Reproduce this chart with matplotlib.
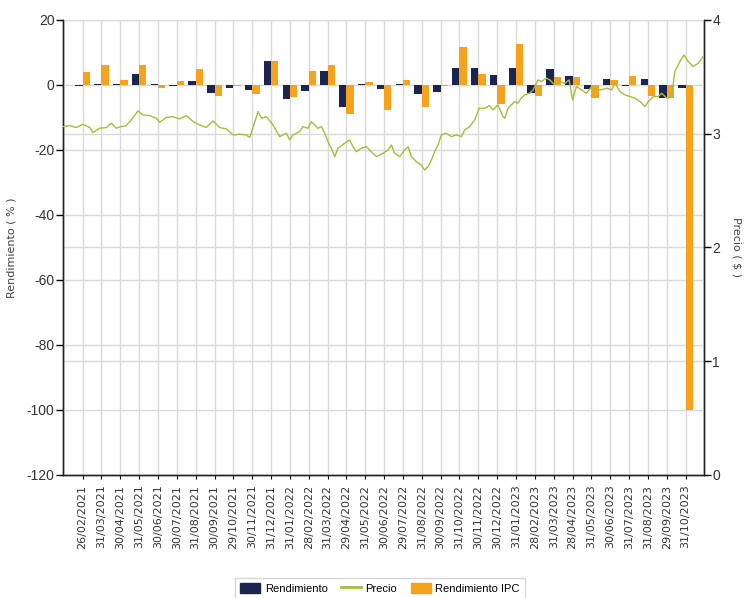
import numpy as np
import matplotlib
matplotlib.use("Agg")
import matplotlib.pyplot as plt
import matplotlib.transforms as mtransforms
from matplotlib.patches import Patch
from matplotlib.lines import Line2D

# fechas de cierre mensual
fechas = ["26/02/2021", "31/03/2021", "30/04/2021", "31/05/2021", "30/06/2021",
          "30/07/2021", "31/08/2021", "30/09/2021", "29/10/2021", "30/11/2021",
          "31/12/2021", "31/01/2022", "28/02/2022", "31/03/2022", "29/04/2022",
          "31/05/2022", "30/06/2022", "29/07/2022", "31/08/2022", "30/09/2022",
          "31/10/2022", "30/11/2022", "30/12/2022", "31/01/2023", "28/02/2023",
          "31/03/2023", "28/04/2023", "31/05/2023", "30/06/2023", "31/07/2023",
          "31/08/2023", "29/09/2023", "31/10/2023"]

# rendimiento mensual (%)
rendimiento = [-0.2, 0.3, 0.3, 3.5, 0.3, -0.2, 1.2, -2.6, -1.0, -1.7,
               7.3, -4.4, -1.8, 4.2, -6.7, 0.3, -1.4, 0.3, -2.9, -2.1,
               5.3, 5.3, 3.0, 5.2, -2.6, 4.9, 2.7, -1.4, 1.8, -0.3,
               1.8, -4.1, -1.0]

# rendimiento IPC (%)
rendimiento_ipc = [3.9, 6.0, 1.6, 6.0, -1.0, 1.2, 5.0, -3.3, -0.2, -2.9,
                   7.3, -3.7, 4.2, 6.0, -8.9, 0.8, -7.7, 1.6, -6.7, -0.4,
                   11.8, 3.5, -6.0, 12.5, -3.3, 2.3, 2.3, -4.1, 1.6, 2.7,
                   -3.3, -4.1, -100.0]

# precio diario (posicion en meses desde la primera fecha)
precio_t = [-1.04, -0.69, -0.34, 0.02, 0.37, 0.55, 0.90, 1.26, 1.52, 1.79,
            1.96, 2.32, 2.58, 2.94, 3.20, 3.56, 3.91, 4.09, 4.44, 4.79,
            5.15, 5.50, 5.86, 6.21, 6.56, 6.92, 7.27, 7.63, 7.98, 8.33,
            8.69, 8.87, 9.04, 9.31, 9.49, 9.75, 10.10, 10.46, 10.81, 10.99,
            11.16, 11.52, 11.69, 11.96, 12.14, 12.49, 12.67, 12.85, 13.02, 13.20,
            13.38, 13.55, 13.91, 14.17, 14.35, 14.53, 14.79, 15.06, 15.32, 15.59,
            15.94, 16.21, 16.39, 16.56, 16.83, 17.09, 17.27, 17.45, 17.71, 17.97,
            18.15, 18.33, 18.51, 18.68, 18.86, 19.04, 19.30, 19.57, 19.83, 20.10,
            20.28, 20.54, 20.81, 21.05, 21.34, 21.60, 21.78, 22.04, 22.31, 22.40,
            22.58, 22.75, 22.93, 23.10, 23.28, 23.46, 23.73, 23.91, 24.17, 24.35,
            24.61, 24.79, 25.05, 25.32, 25.59, 25.82, 26.00, 26.21, 26.48, 26.74,
            27.01, 27.28, 27.54, 27.81, 28.08, 28.25, 28.52, 28.78, 29.05, 29.32,
            29.58, 29.85, 30.02, 30.29, 30.56, 30.73, 31.00, 31.26, 31.43, 31.70,
            31.91, 32.14, 32.40, 32.67, 32.93]
precio = [3.062, 3.071, 3.054, 3.083, 3.056, 3.010, 3.048, 3.054, 3.092, 3.048,
          3.059, 3.071, 3.121, 3.200, 3.165, 3.159, 3.136, 3.101, 3.142, 3.150,
          3.130, 3.159, 3.107, 3.077, 3.054, 3.112, 3.054, 3.042, 2.989, 2.995,
          2.989, 2.966, 3.054, 3.194, 3.136, 3.150, 3.077, 2.974, 3.004, 2.945,
          2.989, 3.018, 3.062, 3.048, 3.106, 3.048, 3.062, 3.004, 2.930, 2.872,
          2.798, 2.872, 2.916, 2.945, 2.886, 2.842, 2.872, 2.886, 2.842, 2.798,
          2.828, 2.857, 2.901, 2.828, 2.798, 2.857, 2.886, 2.798, 2.754, 2.725,
          2.681, 2.710, 2.769, 2.842, 2.901, 2.989, 3.004, 2.974, 2.989, 2.974,
          3.033, 3.062, 3.121, 3.224, 3.224, 3.246, 3.209, 3.253, 3.151, 3.136,
          3.224, 3.253, 3.282, 3.268, 3.312, 3.341, 3.356, 3.385, 3.473, 3.458,
          3.488, 3.473, 3.429, 3.458, 3.443, 3.473, 3.297, 3.414, 3.385, 3.356,
          3.414, 3.385, 3.385, 3.400, 3.385, 3.443, 3.370, 3.341, 3.327, 3.312,
          3.282, 3.239, 3.282, 3.327, 3.327, 3.356, 3.312, 3.327, 3.546, 3.634,
          3.692, 3.634, 3.590, 3.619, 3.678]

c_rend = "#1b2550"
c_ipc = "#f7a21b"
c_precio = "#a9bb3a"
c_grid = "#d9d9d9"
narrow = ["Liberation Sans Narrow", "Liberation Sans", "DejaVu Sans"]

plt.rcParams["axes.unicode_minus"] = False

fig = plt.figure(figsize=(7.48, 5.98), dpi=100)
ax = fig.add_axes([0.084, 0.2057, 0.857, 0.761])
ax2 = ax.twinx()
# barras y linea por encima de la grilla derecha
ax.set_zorder(ax2.get_zorder() + 1)
ax.patch.set_visible(False)

x = np.arange(len(fechas))
w = 0.39
ax.bar(x - w / 2, rendimiento, width=w, color=c_rend, zorder=2)
ax.bar(x + w / 2, rendimiento_ipc, width=w, color=c_ipc, zorder=2)

trans = mtransforms.blended_transform_factory(ax.transData, ax2.transData)
ax.plot(precio_t, precio, color=c_precio, lw=1.0, transform=trans, zorder=3)

ax.set_xlim(-1.05, 32.97)
ax.set_ylim(-120, 20)
ax2.set_ylim(0, 4)
ax.set_yticks(np.arange(-120, 21, 20))
ax2.set_yticks(np.arange(0, 5, 1))
ax.set_xticks(x)
ax.set_xticklabels(fechas, rotation=90, fontsize=8, color="#333333")

ax.grid(True, color=c_grid, lw=1, zorder=0)
ax.set_axisbelow(True)
ax2.grid(True, axis="y", color=c_grid, lw=1)
ax2.set_axisbelow(True)

for a in (ax, ax2):
    a.spines["top"].set_visible(False)
    for s in ("left", "right", "bottom"):
        a.spines[s].set_color("#222222")
        a.spines[s].set_linewidth(1.0)
ax.tick_params(axis="x", length=3, width=0.8, pad=4)
ax.tick_params(axis="y", length=5, width=1, pad=1)
ax2.tick_params(axis="y", length=5, width=1, pad=1)
for lab in ax.get_yticklabels() + ax2.get_yticklabels():
    lab.set_family(narrow)
    lab.set_fontsize(10)
    lab.set_color("#333333")

ax.set_ylabel("Rendimiento ( % )", fontsize=8, color="#404050")
ax.yaxis.set_label_coords(-0.072, 0.5)
ax2.set_ylabel("Precio ( $ )", fontsize=8, color="#404050", rotation=-90)
ax2.yaxis.set_label_coords(1.058, 0.5)

handles = [Patch(color=c_rend), Line2D([], [], color=c_precio, lw=2),
           Patch(color=c_ipc)]
leg = fig.legend(handles, ["Rendimiento", "Precio", "Rendimiento IPC"],
                 loc="upper center", bbox_to_anchor=(0.508, 0.043), ncol=3,
                 fancybox=False, edgecolor="#cccccc", handlelength=1.8,
                 handleheight=1.0, columnspacing=1.2, handletextpad=0.4,
                 borderpad=0.45, prop={"family": narrow, "size": 8})
leg.get_frame().set_linewidth(1)

fig.savefig("out.png", dpi=100)
